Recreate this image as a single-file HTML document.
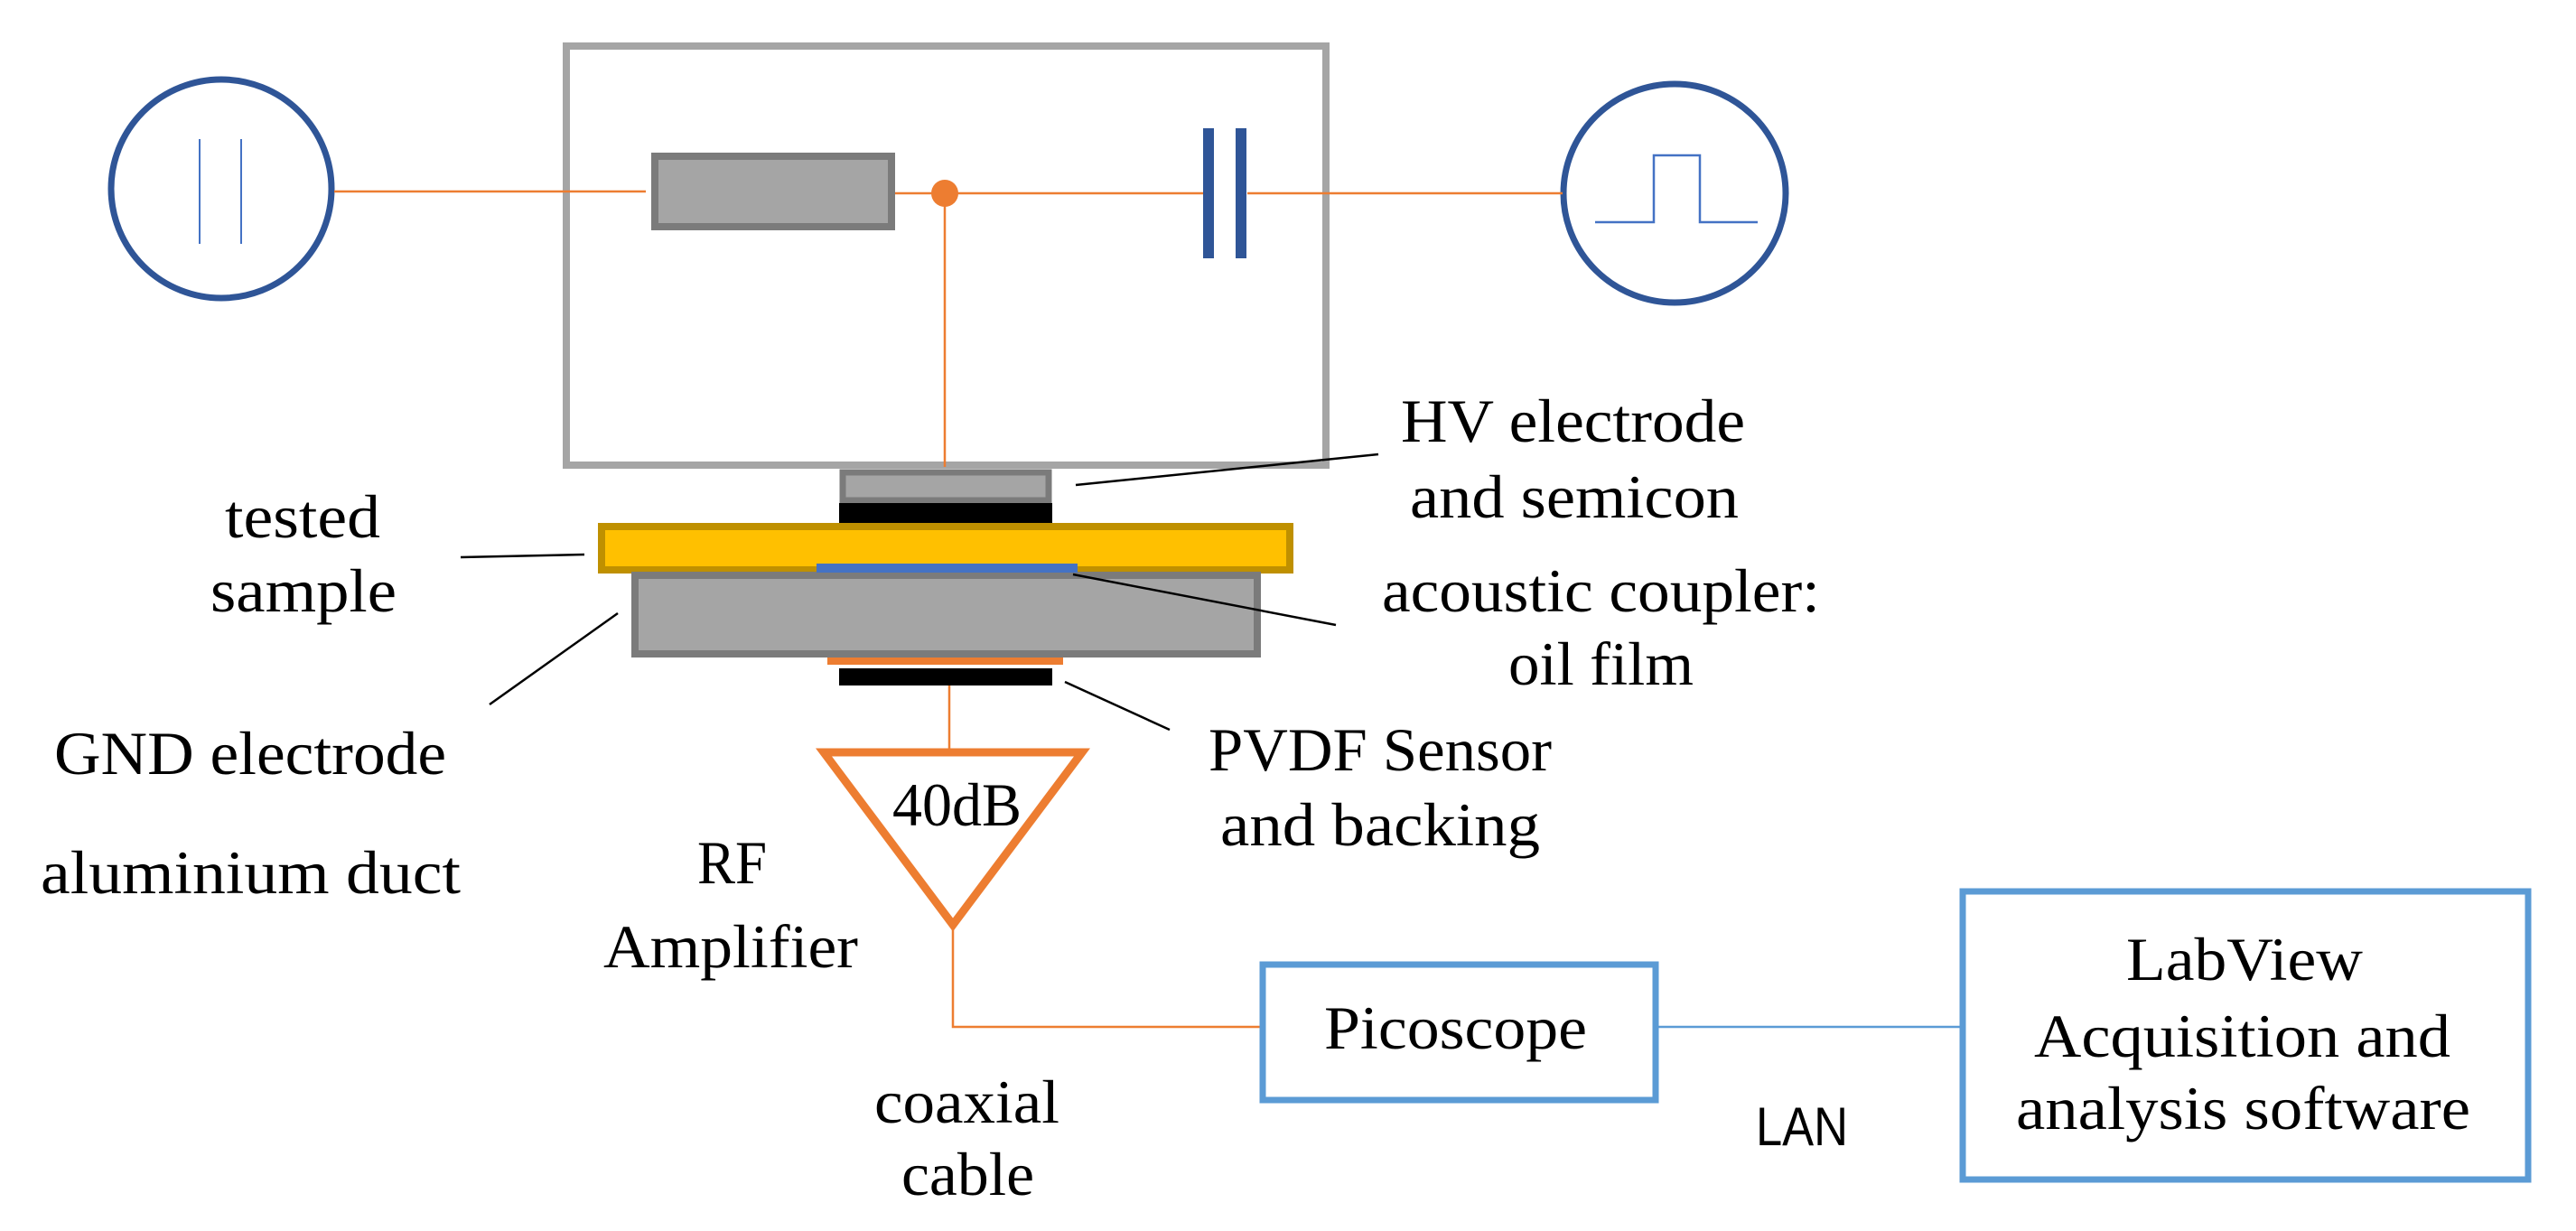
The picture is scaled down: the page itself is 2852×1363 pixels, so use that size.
<!DOCTYPE html>
<html><head><meta charset="utf-8"><style>html,body{margin:0;padding:0;background:#fff}svg{display:block}</style></head>
<body>
<svg width="2852" height="1363" viewBox="0 0 2852 1363" xmlns="http://www.w3.org/2000/svg">
<g font-family="'Liberation Serif', serif" font-size="68" fill="#000">
<rect x="627" y="51" width="841" height="464" fill="none" stroke="#a5a5a5" stroke-width="8"/>
<ellipse cx="245" cy="209" rx="122" ry="121" fill="none" stroke="#2f5597" stroke-width="7"/>
<line x1="221" y1="154" x2="221" y2="270" stroke="#4472c4" stroke-width="2"/>
<line x1="267" y1="154" x2="267" y2="270" stroke="#4472c4" stroke-width="2"/>
<ellipse cx="1854" cy="214" rx="123" ry="121" fill="none" stroke="#2f5597" stroke-width="7"/>
<polyline points="1766,246 1831,246 1831,172 1882,172 1882,246 1946,246" fill="none" stroke="#4472c4" stroke-width="2.5"/>
<line x1="370" y1="212" x2="715" y2="212" stroke="#ed7d31" stroke-width="2.5"/>
<line x1="991" y1="214" x2="1332" y2="214" stroke="#ed7d31" stroke-width="2.5"/>
<line x1="1381" y1="214" x2="1730" y2="214" stroke="#ed7d31" stroke-width="2.5"/>
<line x1="1046" y1="214" x2="1046" y2="517" stroke="#ed7d31" stroke-width="2.5"/>
<circle cx="1046" cy="214" r="15" fill="#ed7d31"/>
<rect x="725" y="173" width="262" height="78" fill="#a5a5a5" stroke="#7b7b7b" stroke-width="8"/>
<rect x="1332" y="142" width="12" height="144" fill="#2f5597"/>
<rect x="1368" y="142" width="12" height="144" fill="#2f5597"/>
<rect x="933" y="523" width="228" height="31" fill="#a5a5a5" stroke="#7b7b7b" stroke-width="7"/>
<rect x="929" y="557" width="236" height="22" fill="#000"/>
<rect x="666" y="583" width="762" height="48" fill="#ffc000" stroke="#bf9000" stroke-width="8"/>
<rect x="703" y="637" width="689" height="87" fill="#a5a5a5" stroke="#7b7b7b" stroke-width="8"/>
<rect x="904" y="624" width="289" height="10" fill="#4472c4"/>
<rect x="916" y="728" width="261" height="8" fill="#ed7d31"/>
<rect x="929" y="740" width="236" height="19" fill="#000"/>
<line x1="1051" y1="759" x2="1051" y2="832" stroke="#ed7d31" stroke-width="2.5"/>
<polygon points="912,833 1198,833 1055,1024" fill="none" stroke="#ed7d31" stroke-width="9"/>
<polyline points="1055,1028 1055,1137 1395,1137" fill="none" stroke="#ed7d31" stroke-width="2.5"/>
<rect x="1398" y="1068" width="435" height="150" fill="none" stroke="#5b9bd5" stroke-width="7"/>
<line x1="1836" y1="1137" x2="2170" y2="1137" stroke="#5b9bd5" stroke-width="2.5"/>
<rect x="2173" y="987" width="626" height="319" fill="none" stroke="#5b9bd5" stroke-width="7"/>
<g stroke="#000" stroke-width="2.5">
<line x1="1191" y1="537" x2="1526" y2="503"/>
<line x1="510" y1="617" x2="647" y2="614"/>
<line x1="684" y1="679" x2="542" y2="780"/>
<line x1="1188" y1="636" x2="1479" y2="692"/>
<line x1="1179" y1="755" x2="1295" y2="808"/>
</g>
<text x="1551" y="489" textLength="381" lengthAdjust="spacingAndGlyphs">HV electrode</text>
<text x="1561" y="573" textLength="364" lengthAdjust="spacingAndGlyphs">and semicon</text>
<text x="249" y="595" textLength="172" lengthAdjust="spacingAndGlyphs">tested</text>
<text x="233" y="677" textLength="206" lengthAdjust="spacingAndGlyphs">sample</text>
<text x="1530" y="677" textLength="485" lengthAdjust="spacingAndGlyphs">acoustic coupler:</text>
<text x="1670" y="758" textLength="205" lengthAdjust="spacingAndGlyphs">oil film</text>
<text x="60" y="857" textLength="434" lengthAdjust="spacingAndGlyphs">GND electrode</text>
<text x="1338" y="853" textLength="380" lengthAdjust="spacingAndGlyphs">PVDF Sensor</text>
<text x="1351" y="936" textLength="354" lengthAdjust="spacingAndGlyphs">and backing</text>
<text x="988" y="914" textLength="143" lengthAdjust="spacingAndGlyphs">40dB</text>
<text x="45" y="989" textLength="465" lengthAdjust="spacingAndGlyphs">aluminium duct</text>
<text x="772" y="978" textLength="77" lengthAdjust="spacingAndGlyphs">RF</text>
<text x="668" y="1071" textLength="282" lengthAdjust="spacingAndGlyphs">Amplifier</text>
<text x="1466" y="1161" textLength="291" lengthAdjust="spacingAndGlyphs">Picoscope</text>
<text x="2354" y="1085" textLength="262" lengthAdjust="spacingAndGlyphs">LabView</text>
<text x="2252" y="1170" textLength="461" lengthAdjust="spacingAndGlyphs">Acquisition and</text>
<text x="2232" y="1250" textLength="503" lengthAdjust="spacingAndGlyphs">analysis software</text>
<text x="968" y="1243" textLength="205" lengthAdjust="spacingAndGlyphs">coaxial</text>
<text x="998" y="1323" textLength="147" lengthAdjust="spacingAndGlyphs">cable</text>
<text x="1944" y="1268" textLength="102" lengthAdjust="spacingAndGlyphs" font-family="'Liberation Sans', sans-serif" font-size="60">LAN</text>
</g>
</svg>
</body></html>
